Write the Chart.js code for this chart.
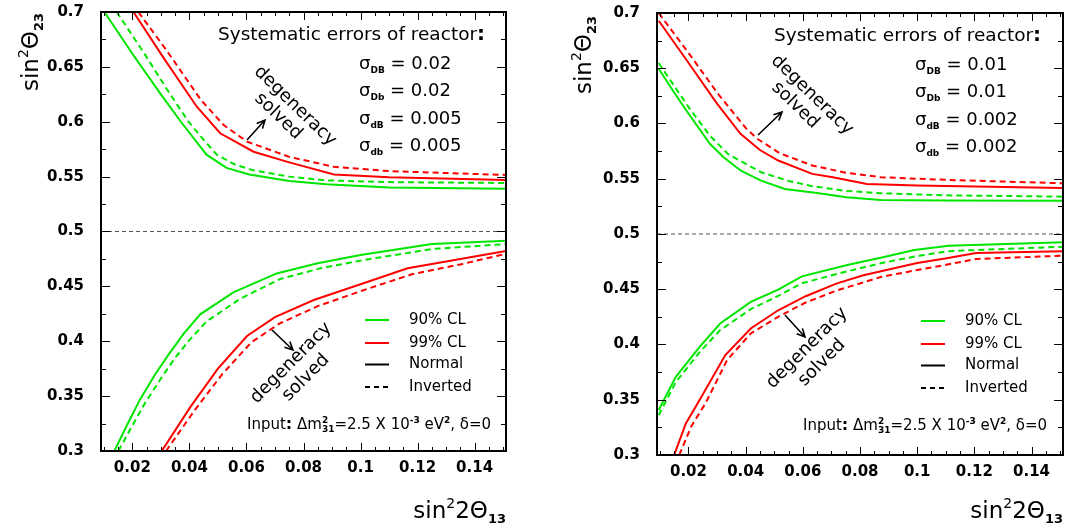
<!DOCTYPE html>
<html>
<head>
<meta charset="utf-8">
<script src="https://cdn.jsdelivr.net/npm/chart.js@4.4.0/dist/chart.umd.min.js"></script>
<style>
  html, body { margin: 0; padding: 0; background: #fff; }
  #wrap { position: relative; width: 1074px; height: 529px; }
  .panel { position: absolute; top: 0; width: 537px; height: 529px; }
</style>
</head>
<body>
<div id="wrap">
  <div class="panel" style="left:0"><canvas id="leftChart" width="537" height="529"></canvas></div>
  <div class="panel" style="left:537px"><canvas id="rightChart" width="537" height="529"></canvas></div>
</div>
<script>
// --- Axis ticks ---
const xTickValues = [0.02, 0.04, 0.06, 0.08, 0.10, 0.12, 0.14];
const xTickLabels = ['0.02', '0.04', '0.06', '0.08', '0.1', '0.12', '0.14'];
const yTickValues = [0.30, 0.35, 0.40, 0.45, 0.50, 0.55, 0.60, 0.65, 0.70];
const yTickLabels = ['0.3', '0.35', '0.4', '0.45', '0.5', '0.55', '0.6', '0.65', '0.7'];
const xRange = [0.009, 0.151];
const yRange = [0.3, 0.7];
const refLevel = 0.5;

const legendLabels = ['90% CL', '99% CL', 'Normal', 'Inverted'];
const leftSigmas = [['DB', '0.02'], ['Db', '0.02'], ['dB', '0.005'], ['db', '0.005']];
const rightSigmas = [['DB', '0.01'], ['Db', '0.01'], ['dB', '0.002'], ['db', '0.002']];

// --- Left panel curves [sin^2 2theta13, sin^2 theta23] ---
const leftGreenNormalUp = [[0.0102, 0.700], [0.020, 0.662], [0.030, 0.625], [0.037, 0.600], [0.046, 0.570], [0.053, 0.558], [0.061, 0.552], [0.075, 0.546], [0.088, 0.543], [0.110, 0.540], [0.151, 0.539]];
const leftGreenInvertedUp = [[0.0145, 0.700], [0.024, 0.663], [0.032, 0.630], [0.0397, 0.600], [0.0445, 0.585], [0.0496, 0.570], [0.056, 0.561], [0.0625, 0.5557], [0.075, 0.550], [0.088, 0.5466], [0.110, 0.545], [0.151, 0.5442]];
const leftRedNormalUp = [[0.0204, 0.700], [0.031, 0.658], [0.0426, 0.6137], [0.0508, 0.5895], [0.0625, 0.5727], [0.075, 0.563], [0.0907, 0.552], [0.110, 0.5495], [0.151, 0.547]];
const leftRedInvertedUp = [[0.0221, 0.700], [0.032, 0.665], [0.044, 0.620], [0.052, 0.597], [0.0602, 0.5819], [0.075, 0.568], [0.0906, 0.559], [0.110, 0.555], [0.151, 0.5515]];
const leftGreenNormalLow = [[0.0137, 0.300], [0.018, 0.323], [0.0227, 0.347], [0.028, 0.370], [0.033, 0.389], [0.038, 0.407], [0.0438, 0.4245], [0.0554, 0.4445], [0.0706, 0.4618], [0.085, 0.471], [0.100, 0.4785], [0.125, 0.4885], [0.151, 0.4916]];
const leftGreenInvertedLow = [[0.0151, 0.300], [0.0195, 0.321], [0.0245, 0.344], [0.030, 0.366], [0.035, 0.385], [0.040, 0.401], [0.046, 0.418], [0.058, 0.439], [0.0718, 0.4567], [0.086, 0.4665], [0.101, 0.474], [0.125, 0.484], [0.151, 0.4886]];
const leftRedNormalLow = [[0.0303, 0.300], [0.0403, 0.340], [0.050, 0.375], [0.0602, 0.4048], [0.070, 0.422], [0.0836, 0.4376], [0.100, 0.452], [0.1165, 0.4665], [0.135, 0.475], [0.151, 0.4822]];
const leftRedInvertedLow = [[0.0318, 0.300], [0.0418, 0.337], [0.0515, 0.370], [0.0617, 0.399], [0.0715, 0.416], [0.085, 0.432], [0.101, 0.4465], [0.118, 0.461], [0.135, 0.470], [0.151, 0.4797]];

// --- Right panel curves ---
const rightGreenNormalUp = [[0.0096, 0.6496], [0.015, 0.628], [0.020, 0.609], [0.0275, 0.5816], [0.0323, 0.5695], [0.0385, 0.557], [0.0454, 0.5483], [0.0537, 0.5408], [0.065, 0.537], [0.0752, 0.5333], [0.0872, 0.5308], [0.110, 0.5303], [0.151, 0.5302]];
const rightGreenInvertedUp = [[0.0096, 0.6547], [0.015, 0.634], [0.020, 0.615], [0.0275, 0.589], [0.034, 0.572], [0.0454, 0.5559], [0.055, 0.548], [0.0633, 0.5433], [0.075, 0.539], [0.0872, 0.5369], [0.110, 0.535], [0.151, 0.5338]];
const rightRedNormalUp = [[0.0096, 0.693], [0.020, 0.655], [0.030, 0.618], [0.0382, 0.5906], [0.045, 0.576], [0.0514, 0.5665], [0.0633, 0.5544], [0.0705, 0.5514], [0.0824, 0.5453], [0.100, 0.5440], [0.151, 0.5417]];
const rightRedInvertedUp = [[0.0096, 0.700], [0.020, 0.664], [0.030, 0.628], [0.040, 0.596], [0.0442, 0.586], [0.052, 0.573], [0.0633, 0.562], [0.075, 0.5555], [0.0872, 0.5514], [0.110, 0.549], [0.151, 0.5459]];
const rightGreenNormalLow = [[0.0096, 0.3407], [0.0156, 0.3708], [0.0239, 0.3979], [0.0311, 0.419], [0.0418, 0.4386], [0.0514, 0.4497], [0.0597, 0.4617], [0.0752, 0.4717], [0.088, 0.479], [0.099, 0.4855], [0.111, 0.4894], [0.151, 0.4925]];
const rightGreenInvertedLow = [[0.0096, 0.3361], [0.0156, 0.366], [0.0239, 0.393], [0.0311, 0.413], [0.0418, 0.432], [0.0514, 0.444], [0.0597, 0.4555], [0.0752, 0.466], [0.088, 0.474], [0.100, 0.480], [0.111, 0.4845], [0.151, 0.4885]];
const rightRedNormalLow = [[0.015, 0.300], [0.0191, 0.3286], [0.0239, 0.3497], [0.0329, 0.3904], [0.0418, 0.4145], [0.0514, 0.431], [0.061, 0.4437], [0.0717, 0.4551], [0.0812, 0.4627], [0.100, 0.4738], [0.1098, 0.4778], [0.1206, 0.4828], [0.151, 0.4843]];
const rightRedInvertedLow = [[0.0168, 0.300], [0.021, 0.326], [0.026, 0.347], [0.0335, 0.3858], [0.0418, 0.410], [0.052, 0.426], [0.061, 0.438], [0.072, 0.449], [0.0872, 0.461], [0.100, 0.4675], [0.1098, 0.472], [0.1206, 0.4774], [0.151, 0.4804]];

const GREEN = '#00e600';
const RED = '#ff0000';
const FONT = '"DejaVu Sans"';

function fontStr(size, bold) {
    return (bold ? 'bold ' : '') + size + 'px ' + FONT;
}

// draw a run of text pieces with different sizes / offsets
function drawRich(ctx, parts, x, y, align) {
    const widths = parts.map(p => {
        ctx.font = fontStr(p.size, p.bold);
        let w = ctx.measureText(p.t).width;
        if (p.sub) w = Math.max(w, ctx.measureText(p.sub).width);
        return w;
    });
    const total = widths.reduce((a, b) => a + b, 0);
    let cx = x;
    if (align === 'right') cx = x - total;
    if (align === 'center') cx = x - total / 2;
    ctx.textAlign = 'left';
    ctx.textBaseline = 'alphabetic';
    parts.forEach((p, i) => {
        ctx.font = fontStr(p.size, p.bold);
        ctx.fillText(p.t, cx, y + (p.dy || 0));
        if (p.sub) ctx.fillText(p.sub, cx, y + p.subDy);
        cx += widths[i];
    });
}

function drawArrow(ctx, x1, y1, x2, y2) {
    const a = Math.atan2(y2 - y1, x2 - x1);
    ctx.beginPath();
    ctx.moveTo(x1, y1);
    ctx.lineTo(x2, y2);
    ctx.moveTo(x2 - 9 * Math.cos(a - 0.45), y2 - 9 * Math.sin(a - 0.45));
    ctx.lineTo(x2, y2);
    ctx.lineTo(x2 - 9 * Math.cos(a + 0.45), y2 - 9 * Math.sin(a + 0.45));
    ctx.stroke();
}

function rotatedWords(ctx, cx, cy, angle, solvedDx, solvedDy) {
    ctx.save();
    ctx.translate(cx, cy);
    ctx.rotate(angle);
    ctx.font = fontStr(18, false);
    ctx.textAlign = 'center';
    ctx.textBaseline = 'middle';
    ctx.fillText('degeneracy', 0, 0);
    ctx.fillText('solved', solvedDx, solvedDy);
    ctx.restore();
}

function curve(points, color, dashed) {
    return {
        data: points.map(p => ({ x: p[0], y: p[1] })),
        borderColor: color,
        borderWidth: 2,
        borderDash: dashed ? [6, 4] : [],
        pointRadius: 0,
        tension: 0,
        fill: false
    };
}

function makePanel(canvasId, panel) {
    const datasets = [
        {
            data: xRange.map(x => ({ x: x, y: refLevel })),
            borderColor: '#555',
            borderWidth: 1,
            borderDash: [4, 3],
            pointRadius: 0
        },
        curve(panel.curves[0], GREEN, false),
        curve(panel.curves[1], GREEN, true),
        curve(panel.curves[2], RED, false),
        curve(panel.curves[3], RED, true),
        curve(panel.curves[4], GREEN, false),
        curve(panel.curves[5], GREEN, true),
        curve(panel.curves[6], RED, false),
        curve(panel.curves[7], RED, true)
    ];

    const decor = {
        id: 'decor',
        afterDraw(chart) {
            const ctx = chart.ctx;
            const area = chart.chartArea;
            const xs = chart.scales.x, ys = chart.scales.y;
            ctx.save();
            ctx.fillStyle = '#000';
            ctx.strokeStyle = '#000';

            // ticks on all four sides
            ctx.lineWidth = 1;
            ctx.beginPath();
            for (let v = 0.01; v <= 0.1501; v += 0.005) {
                const px = Math.round(xs.getPixelForValue(v)) + 0.5;
                const major = xTickValues.some(t => Math.abs(t - v) < 1e-6);
                const len = major ? 8 : 4;
                ctx.moveTo(px, area.bottom); ctx.lineTo(px, area.bottom - len);
                ctx.moveTo(px, area.top); ctx.lineTo(px, area.top + len);
            }
            for (let v = 0.3; v <= 0.7001; v += 0.025) {
                const py = Math.round(ys.getPixelForValue(v)) + 0.5;
                const major = yTickValues.some(t => Math.abs(t - v) < 1e-6);
                const len = major ? 9 : 5;
                ctx.moveTo(area.left, py); ctx.lineTo(area.left + len, py);
                ctx.moveTo(area.right, py); ctx.lineTo(area.right - len, py);
            }
            ctx.stroke();

            // frame
            ctx.lineWidth = 2;
            ctx.strokeRect(area.left, area.top, area.right - area.left, area.bottom - area.top);

            const L = area.left, T = area.top;

            // header + sigma lines
            drawRich(ctx, [{ t: 'Systematic errors of reactor', size: 18.5 }, { t: ':', size: 20, bold: true }], L + 117, T + 28, 'left');
            const sigRows = [50, 77.5, 105, 132];
            panel.sigmas.forEach((s, i) => {
                drawRich(ctx, [
                    { t: 'σ', size: 18 },
                    { t: s[0], size: 9, dy: 4, bold: true },
                    { t: ' = ' + s[1], size: 18 }
                ], L + 258, T + sigRows[i] + 6.5, 'left');
            });

            // legend
            const legRows = [308, 331, 352.5, 375];
            const legStyles = [[GREEN, []], [RED, []], ['#000', []], ['#000', [5, 4]]];
            legendLabels.forEach((lab, i) => {
                ctx.strokeStyle = legStyles[i][0];
                ctx.setLineDash(legStyles[i][1]);
                ctx.lineWidth = 2;
                ctx.beginPath();
                ctx.moveTo(L + 264, T + legRows[i]);
                ctx.lineTo(L + 288, T + legRows[i]);
                ctx.stroke();
                ctx.setLineDash([]);
                ctx.font = fontStr(15, false);
                ctx.textAlign = 'left';
                ctx.textBaseline = 'middle';
                ctx.fillText(lab, L + 308, T + legRows[i]);
            });
            ctx.strokeStyle = '#000';

            // input line
            drawRich(ctx, [
                { t: 'Input', size: 15 },
                { t: ':', size: 16, bold: true },
                { t: ' Δm', size: 15 },
                { t: '2', size: 9, dy: -6, sub: '31', subDy: 3, bold: true },
                { t: '=2.5 X 10', size: 15 },
                { t: '-3', size: 9, dy: -6, bold: true },
                { t: ' eV', size: 15 },
                { t: '2', size: 9, dy: -6, bold: true },
                { t: ', δ=0', size: 15 }
            ], L + 146, T + 417, 'left');

            // degeneracy notes
            const n = panel.notes;
            rotatedWords(ctx, L + n.up[0], T + n.up[1], 44 * Math.PI / 180, -5, 19);
            rotatedWords(ctx, L + n.low[0], T + n.low[1], -45 * Math.PI / 180, 0, 21);
            ctx.lineWidth = 1.6;
            drawArrow(ctx, L + n.upArrow[0], T + n.upArrow[1], L + n.upArrow[2], T + n.upArrow[3]);
            drawArrow(ctx, L + n.lowArrow[0], T + n.lowArrow[1], L + n.lowArrow[2], T + n.lowArrow[3]);

            // axis titles
            drawRich(ctx, [
                { t: 'sin', size: 23 },
                { t: '2', size: 14, dy: -10 },
                { t: '2Θ', size: 23 },
                { t: '13', size: 13, dy: 5, bold: true }
            ], area.right, 518, 'right');

            ctx.save();
            ctx.translate(panel.yTitle[0], panel.yTitle[1]);
            ctx.rotate(-Math.PI / 2);
            drawRich(ctx, [
                { t: 'sin', size: 23 },
                { t: '2', size: 14, dy: -10 },
                { t: 'Θ', size: 23 },
                { t: '23', size: 13, dy: 5, bold: true }
            ], 0, 0, 'right');
            ctx.restore();

            ctx.restore();
        }
    };

    return new Chart(document.getElementById(canvasId), {
        type: 'line',
        data: { datasets: datasets },
        options: {
            responsive: false,
            animation: false,
            events: [],
            layout: { padding: { top: panel.padTop, right: panel.padRight, left: 0, bottom: 0 } },
            plugins: { legend: { display: false }, tooltip: { enabled: false } },
            scales: {
                x: {
                    type: 'linear',
                    min: xRange[0],
                    max: xRange[1],
                    grid: { display: false, drawTicks: false },
                    border: { display: false },
                    afterBuildTicks: s => { s.ticks = xTickValues.map(v => ({ value: v })); },
                    afterFit: s => { s.height = panel.xAxisH; s.paddingLeft = 0; s.paddingRight = 0; },
                    ticks: {
                        callback: (v, i) => xTickLabels[i],
                        font: { family: 'DejaVu Sans', size: 15, weight: 'bold' },
                        color: '#000',
                        padding: 8,
                        maxRotation: 0,
                        autoSkip: false
                    }
                },
                y: {
                    type: 'linear',
                    min: yRange[0],
                    max: yRange[1],
                    grid: { display: false, drawTicks: false },
                    border: { display: false },
                    afterBuildTicks: s => { s.ticks = yTickValues.map(v => ({ value: v })); },
                    afterFit: s => { s.width = panel.yAxisW; s.paddingTop = 0; s.paddingBottom = 0; },
                    ticks: {
                        callback: (v, i) => yTickLabels[i],
                        font: { family: 'DejaVu Sans', size: 15, weight: 'bold' },
                        color: '#000',
                        padding: 17,
                        autoSkip: false
                    }
                }
            }
        },
        plugins: [decor]
    });
}

makePanel('leftChart', {
    padTop: 12, padRight: 31, yAxisW: 101, xAxisH: 78,
    sigmas: leftSigmas,
    curves: [leftGreenNormalUp, leftGreenInvertedUp, leftRedNormalUp, leftRedInvertedUp,
             leftGreenNormalLow, leftGreenInvertedLow, leftRedNormalLow, leftRedInvertedLow],
    notes: { up: [194, 94], low: [190, 351], upArrow: [146, 128, 164, 108], lowArrow: [171, 318, 192, 338] },
    yTitle: [38, 13]
});

makePanel('rightChart', {
    padTop: 13, padRight: 11, yAxisW: 120, xAxisH: 74,
    sigmas: rightSigmas,
    curves: [rightGreenNormalUp, rightGreenInvertedUp, rightRedNormalUp, rightRedInvertedUp,
             rightGreenNormalLow, rightGreenInvertedLow, rightRedNormalLow, rightRedInvertedLow],
    notes: { up: [155, 82], low: [150, 335], upArrow: [101, 122, 125, 99], lowArrow: [128, 302, 148, 324] },
    yTitle: [54, 16]
});
</script>
</body>
</html>
